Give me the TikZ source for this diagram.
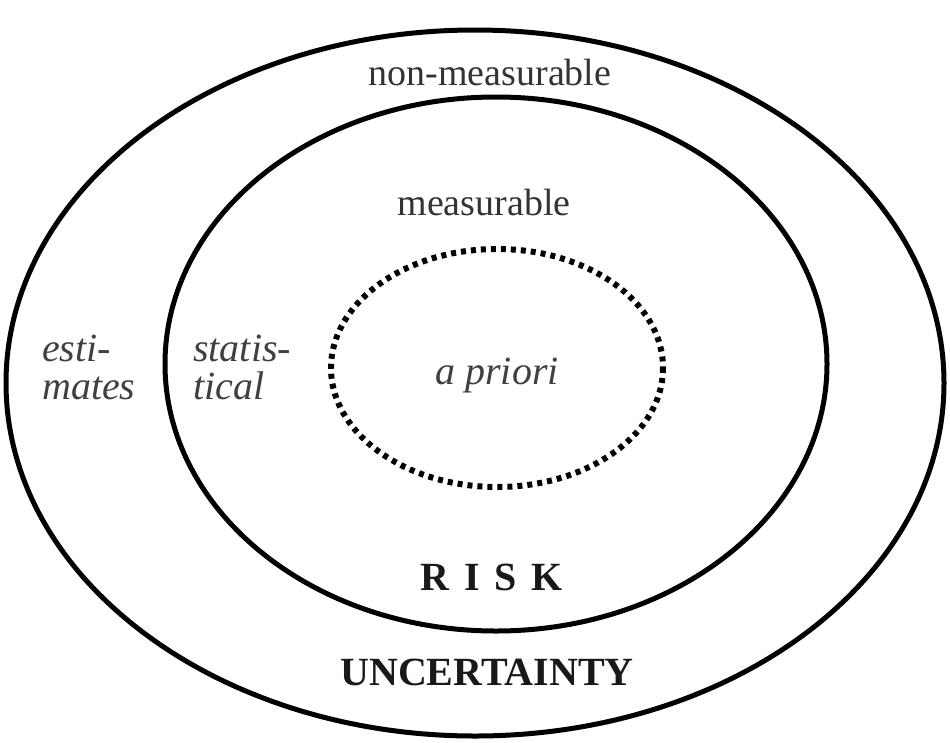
\documentclass[tikz,border=0pt]{standalone}
\usepackage{fontspec}
\setmainfont{Liberation Serif}[ItalicFont={Liberation Serif Italic},BoldFont={Liberation Serif Bold}]
\begin{document}
\begin{tikzpicture}[x=1pt,y=-1pt,
  ring/.style={draw=black,line width=5pt},
  dotring/.style={draw=black,line width=6pt,dash pattern=on 5pt off 5pt},
  lbl/.style={inner sep=0pt,text=black!80,font=\fontsize{38}{40}\selectfont},
  ilbl/.style={inner sep=0pt,text=black!75,align=left,font=\fontsize{40}{36}\selectfont\itshape},
  blbl/.style={inner sep=0pt,text=black!90,font=\fontsize{40}{42}\selectfont\bfseries}]
\useasboundingbox (0,0) rectangle (950,742);
\draw[ring] (475,383) ellipse [x radius=469, y radius=353];
\draw[ring] (496,364) ellipse [x radius=331, y radius=267];
\draw[dotring] (497,368) ellipse [x radius=166, y radius=119];
\node[lbl] (nm) at (490,72) {non-measurable};
\node[lbl] (m) at (484,202) {measurable};
\node[ilbl,anchor=west] (est) at (42,367) {esti-\\[2pt]mates};
\node[ilbl,anchor=west] (stat) at (193,367) {statis-\\[2pt]tical};
\node[ilbl] (ap) at (497,376) {a priori};
\node[blbl] (risk) at (492,577) {R\hspace{0.37em}I\hspace{0.37em}S\hspace{0.37em}K};
\node[blbl] (unc) at (487,672) {UNCERTAINTY};
\end{tikzpicture}
\end{document}
